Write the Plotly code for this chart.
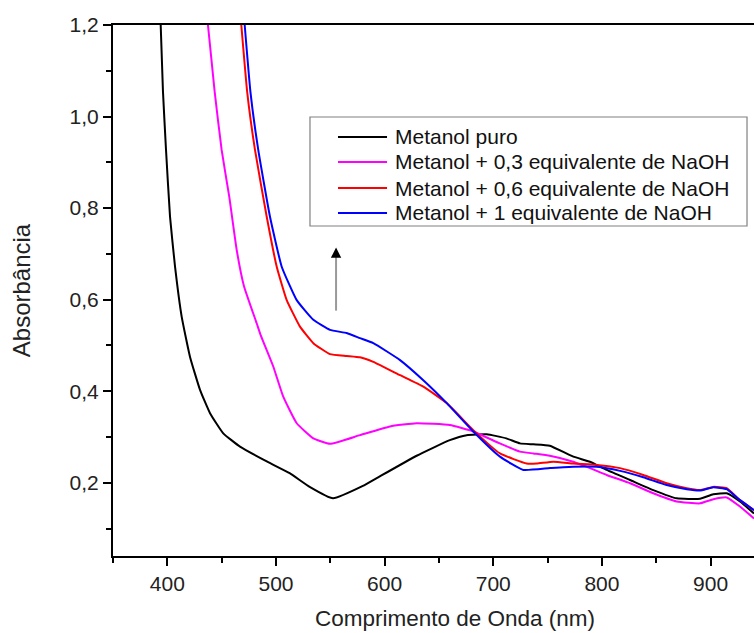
import plotly.graph_objects as go

# Wavelength (nm) / absorbance
x_puro = [393.9, 396.0, 398.8, 402.5, 407.1, 413.2, 420.9, 430.1, 439.3, 451.5, 466.9, 492.0, 512.6, 531.0,
          552.5, 580.0, 592.7, 629.5, 660.0, 675.5, 694.0, 712.0, 724.6, 737.0, 752.0, 773.7, 789.0, 804.4,
          825.9, 847.3, 868.8, 890.3, 902.5, 914.9, 927.1, 940.0]
y_puro = [1.200, 1.054, 0.927, 0.781, 0.672, 0.563, 0.475, 0.403, 0.352, 0.308, 0.279, 0.246, 0.221, 0.191,
          0.166, 0.193, 0.210, 0.259, 0.293, 0.304, 0.306, 0.297, 0.286, 0.284, 0.281, 0.257, 0.246, 0.228,
          0.206, 0.184, 0.166, 0.165, 0.175, 0.177, 0.159, 0.133]

x_03 = [437.4, 443.6, 450.0, 457.0, 463.9, 470.5, 482.3, 486.0, 497.5, 506.7, 519.1, 534.4, 549.7,
        577.3, 605.0, 629.5, 660.0, 681.6, 706.0, 724.6, 737.0, 752.0, 773.7, 789.0, 804.4, 825.9, 847.3,
        868.8, 890.3, 902.5, 914.9, 927.1, 940.0]
y_03 = [1.200, 1.054, 0.927, 0.825, 0.708, 0.630, 0.548, 0.522, 0.454, 0.388, 0.330, 0.297, 0.285,
        0.304, 0.323, 0.330, 0.326, 0.312, 0.286, 0.268, 0.264, 0.259, 0.246, 0.232, 0.217, 0.199, 0.177,
        0.159, 0.155, 0.164, 0.168, 0.148, 0.122]

x_06 = [468.1, 473.5, 480.7, 491.5, 500.7, 509.9, 522.1, 534.4, 549.7, 565.1, 577.3, 589.6, 614.2, 635.6,
        657.2, 681.6, 706.2, 730.8, 740.0, 755.3, 773.7, 795.2, 816.7, 838.1, 859.6, 878.1, 890.3, 902.5,
        914.9, 927.1, 940.0]
y_06 = [1.200, 1.054, 0.927, 0.781, 0.672, 0.599, 0.541, 0.505, 0.481, 0.477, 0.474, 0.464, 0.435, 0.410,
        0.374, 0.315, 0.264, 0.242, 0.242, 0.246, 0.242, 0.239, 0.232, 0.217, 0.199, 0.188, 0.184, 0.191,
        0.188, 0.162, 0.140]

x_1 = [471.2, 476.5, 483.7, 494.5, 505.3, 519.1, 534.4, 549.7, 565.1, 577.3, 589.6, 614.2, 635.6, 657.2,
       681.6, 706.2, 727.7, 752.2, 773.7, 795.2, 816.7, 838.1, 859.6, 878.1, 890.3, 902.5, 914.9, 927.1, 940.0]
y_1 = [1.200, 1.054, 0.927, 0.781, 0.672, 0.599, 0.556, 0.534, 0.527, 0.516, 0.505, 0.468, 0.424, 0.374,
       0.312, 0.257, 0.228, 0.232, 0.235, 0.235, 0.226, 0.212, 0.195, 0.186, 0.183, 0.190, 0.186, 0.162, 0.140]

names = ["Metanol puro", "Metanol + 0,3 equivalente de NaOH",
         "Metanol + 0,6 equivalente de NaOH", "Metanol + 1 equivalente de NaOH"]
colors = ["#000000", "#FF00FF", "#FF0000", "#0000FF"]
series = [(x_puro, y_puro), (x_03, y_03), (x_06, y_06), (x_1, y_1)]

FONT = "Liberation Sans, Arial, sans-serif"
TXT = "#222222"

fig = go.Figure()
for (xs, ys), n, c in zip(series, names, colors):
    fig.add_trace(go.Scatter(x=xs, y=ys, name=n, mode="lines", showlegend=False,
                             line=dict(color=c, width=2, shape="spline", smoothing=0.4)))

# arrow
fig.add_shape(type="line", x0=555.3, x1=555.3, y0=0.576, y1=0.695,
              line=dict(color="#999999", width=2), layer="above")
fig.add_annotation(x=555.3, y=0.714, ax=555.3, ay=0.69, xref="x", yref="y", axref="x", ayref="y",
                   showarrow=True, arrowhead=2, arrowsize=1.6, arrowwidth=1.3, arrowcolor="#000000", text="")

# legend box (drawn in paper coordinates)
fig.add_shape(type="rect", xref="paper", yref="paper", x0=0.3073, x1=0.9891, y0=0.6215, y1=0.8267,
              line=dict(color="#808080", width=1.2), fillcolor="white", layer="above")
row_y = [0.7891, 0.7420, 0.6930, 0.6460]
for ry, n, c in zip(row_y, names, colors):
    fig.add_shape(type="line", xref="paper", yref="paper", x0=0.3510, x1=0.4275, y0=ry, y1=ry,
                  line=dict(color=c, width=2), layer="above")
    fig.add_annotation(xref="paper", yref="paper", x=0.4368, y=ry, xanchor="left", yanchor="middle",
                       text=n, showarrow=False, font=dict(family=FONT, size=21, color="#111111"))

# x-axis title (centred where the original, wider plot area was centred)
fig.add_annotation(xref="paper", yref="paper", x=0.534, y=-0.117, xanchor="center", yanchor="middle",
                   text="Comprimento de Onda (nm)", showarrow=False,
                   font=dict(family=FONT, size=22.5, color=TXT))

fig.update_layout(
    width=754, height=633,
    margin=dict(l=113, r=0, t=25, b=77),
    paper_bgcolor="white", plot_bgcolor="white",
    separators=",.",
    font=dict(family=FONT, size=21, color=TXT),
    showlegend=False,
)
fig.update_xaxes(range=[350, 940], dtick=100, tick0=0, showgrid=False, zeroline=False,
                 showline=True, linecolor="black", linewidth=2, mirror=True,
                 ticks="outside", ticklen=8, tickwidth=1.5, tickcolor="black",
                 minor=dict(dtick=50, tick0=0, ticks="outside", ticklen=5, tickwidth=1.5, tickcolor="black"),
                 tickfont=dict(family=FONT, size=21, color=TXT))
fig.update_yaxes(range=[0.04, 1.2], dtick=0.2, tick0=0, tickformat=".1f", showgrid=False, zeroline=False,
                 showline=True, linecolor="black", linewidth=2,
                 ticks="outside", ticklen=8, tickwidth=1.5, tickcolor="black",
                 minor=dict(dtick=0.1, tick0=0, ticks="outside", ticklen=5, tickwidth=1.5, tickcolor="black"),
                 tickfont=dict(family=FONT, size=21, color=TXT),
                 title=dict(text="Absorbância", font=dict(family=FONT, size=24, color=TXT),
                            standoff=32))

fig.write_html("out.html")
